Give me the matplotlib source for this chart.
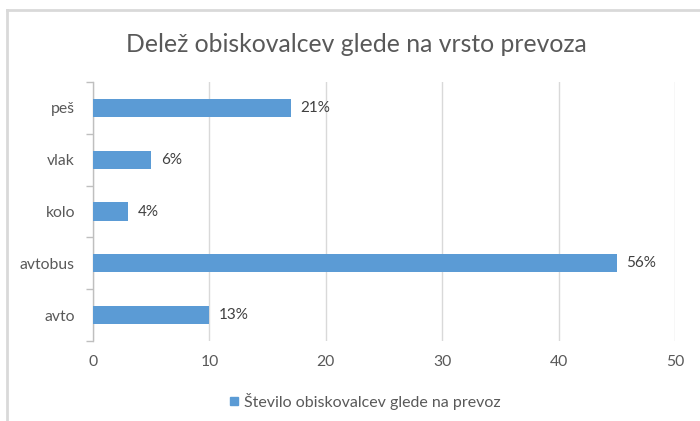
import matplotlib.pyplot as plt
from matplotlib.lines import Line2D

# data
categories = ['avto', 'avtobus', 'kolo', 'vlak', 'peš']
visitors = [10, 45, 3, 5, 17]
pct_labels = ['13%', '56%', '4%', '6%', '21%']

title = 'Delež obiskovalcev glede na vrsto prevoza'
series_name = 'Število obiskovalcev glede na prevoz'

plt.rcParams['font.family'] = ['Lato', 'DejaVu Sans']

W, H = 700, 421
fig = plt.figure(figsize=(W / 100, H / 100), dpi=100)
ax = fig.add_axes([93 / W, 1 - 341 / H, 582 / W, 259 / H])

bar_color = '#5b9bd5'
pos = list(range(len(categories)))
bars = ax.barh(pos, visitors, height=0.355, color=bar_color, zorder=3)

for b, lab in zip(bars, pct_labels):
    ax.annotate(lab, (b.get_width(), b.get_y() + b.get_height() / 2),
                xytext=(7, 0), textcoords='offset points', va='center', ha='left',
                fontsize=11, color='#404040')

ax.set_xlim(0, 50)
ax.set_ylim(-0.5, len(categories) - 0.5)
ax.set_xticks(range(0, 51, 10))
ax.grid(axis='x', color='#d9d9d9', linewidth=1, zorder=0)

ax.set_yticks(pos)
ax.set_yticklabels(categories)
ax.set_yticks([p - 0.5 for p in pos] + [len(pos) - 0.5], minor=True)
ax.tick_params(axis='y', which='major', length=0, pad=13, labelsize=11.3, labelcolor='#595959')
ax.tick_params(axis='y', which='minor', length=5, width=1, color='#bfbfbf', direction='out')
ax.tick_params(axis='x', length=0, pad=10, labelsize=11.3, labelcolor='#595959')

for s in ['top', 'right', 'bottom']:
    ax.spines[s].set_visible(False)
ax.spines['left'].set_color('#bfbfbf')
ax.spines['left'].set_linewidth(1)

fig.text(356 / W, 1 - 45 / H, title, ha='center', va='center', fontsize=17.8, color='#595959')

# chart border (cropped on right and bottom)
bx, by = 7 / W, 1 - 10 / H
fig.add_artist(Line2D([bx, bx], [0, by], transform=fig.transFigure, color='#d9d9d9', linewidth=2))
fig.add_artist(Line2D([bx, 1], [by, by], transform=fig.transFigure, color='#d9d9d9', linewidth=2))

handle = Line2D([], [], marker='s', linestyle='none', markersize=5.5, color=bar_color)
fig.legend([handle], [series_name], loc='center', bbox_to_anchor=(365 / W, 1 - 401 / H),
           frameon=False, fontsize=11.5, labelcolor='#595959', handlelength=0.6, handletextpad=0.3)

fig.savefig('out.png', dpi=100)
